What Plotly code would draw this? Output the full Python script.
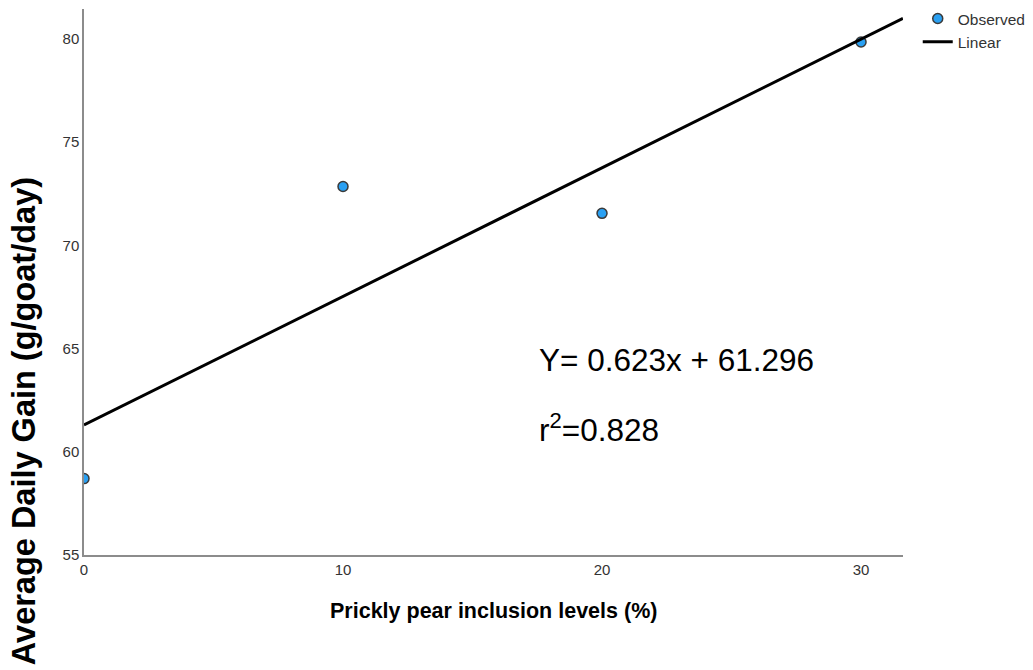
import plotly.graph_objects as go

# Prickly pear inclusion level (%) vs average daily gain (g/goat/day)
inclusion = [0, 10, 20, 30]
adg = [58.7, 72.85, 71.55, 79.85]

# Fitted linear model reported on the chart
slope = 0.623
intercept = 61.296
fit_x = [0, 31.62]
fit_y = [intercept + slope * v for v in fit_x]

x_ticks = [0, 10, 20, 30]
y_ticks = [55, 60, 65, 70, 75, 80]

FONT = "Arial, Liberation Sans, sans-serif"

fig = go.Figure()
fig.add_trace(go.Scatter(
    x=inclusion, y=adg, mode="markers", name="Observed",
    marker=dict(size=10, color="#2AA0F2", line=dict(color="#3a3a3a", width=1.5)),
))
fig.add_trace(go.Scatter(
    x=fit_x, y=fit_y, mode="lines", name="Linear",
    line=dict(color="black", width=3),
))

fig.update_layout(
    width=1033, height=670,
    margin=dict(l=84, r=130, t=9, b=115, autoexpand=False),
    paper_bgcolor="white", plot_bgcolor="white",
    font=dict(family=FONT, color="#333333"),
    legend=dict(
        x=1.018, y=1.013, xanchor="left", yanchor="top",
        font=dict(size=15.5, color="#333333"),
        bgcolor="rgba(0,0,0,0)", tracegroupgap=0,
    ),
    xaxis=dict(
        range=[0, 31.62], tickvals=x_ticks, ticks="", showgrid=False, zeroline=False,
        showline=True, linecolor="#8c8c8c", linewidth=1.5,
        tickfont=dict(size=15, color="#333333"),
    ),
    yaxis=dict(
        range=[55, 81.45], tickvals=y_ticks, ticks="", showgrid=False, zeroline=False,
        showline=True, linecolor="#8c8c8c", linewidth=1.5,
        tickfont=dict(size=15, color="#333333"),
    ),
    annotations=[
        dict(text="<b>Prickly pear inclusion levels (%)</b>", xref="paper", yref="paper",
             x=0.5, y=-0.103, xanchor="center", yanchor="middle", showarrow=False,
             font=dict(size=21.5, color="black", family=FONT)),
        dict(text="<b>Average Daily Gain (g/goat/day)</b>", xref="paper", yref="paper",
             x=-0.0733, y=0.245, xanchor="center", yanchor="middle", textangle=-90,
             showarrow=False, font=dict(size=32.5, color="black", family=FONT)),
        dict(text="Y= 0.623x + 61.296", xref="paper", yref="paper",
             x=0.553, y=0.357, xanchor="left", yanchor="middle", showarrow=False,
             font=dict(size=31.5, color="black", family=FONT)),
        dict(text="r<sup>2</sup>=0.828", xref="paper", yref="paper",
             x=0.553, y=0.232, xanchor="left", yanchor="middle", showarrow=False,
             font=dict(size=31.5, color="black", family=FONT)),
    ],
)

fig.write_html("out.html")
